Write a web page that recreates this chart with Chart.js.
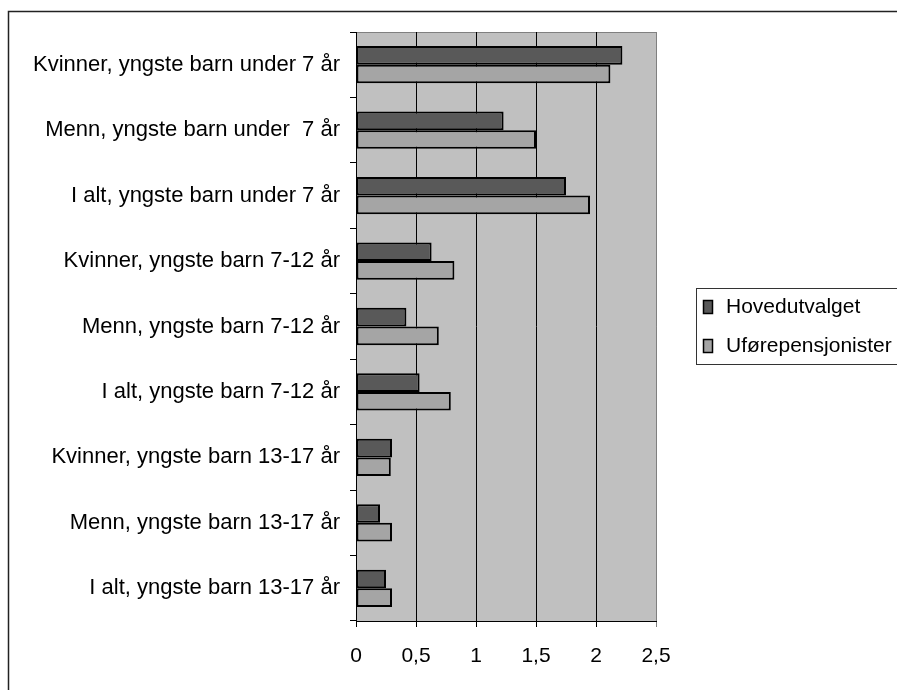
<!DOCTYPE html>
<html>
<head>
<meta charset="utf-8">
<script src="https://cdn.jsdelivr.net/npm/chart.js@4.4.0/dist/chart.umd.min.js"></script>
<style>
  body { margin: 0; background: #fff; }
  canvas { display: block; }
</style>
</head>
<body>
<canvas id="chart" width="897" height="690"></canvas>
<script>
// Kategorier (fra topp til bunn)
const categories = [
  "Kvinner, yngste barn under 7 år",
  "Menn, yngste barn under  7 år",
  "I alt, yngste barn under 7 år",
  "Kvinner, yngste barn 7-12 år",
  "Menn, yngste barn 7-12 år",
  "I alt, yngste barn 7-12 år",
  "Kvinner, yngste barn 13-17 år",
  "Menn, yngste barn 13-17 år",
  "I alt, yngste barn 13-17 år"
];
const seriesNames = ["Hovedutvalget", "Uførepensjonister"];
const hovedutvalget = [2.22, 1.23, 1.75, 0.63, 0.42, 0.53, 0.30, 0.20, 0.25];
const uforepensjonister = [2.12, 1.50, 1.95, 0.82, 0.69, 0.79, 0.29, 0.30, 0.30];
const xTickLabels = ["0", "0,5", "1", "1,5", "2", "2,5"];

const FONT = "'Liberation Sans', Arial, sans-serif";
const colors = ["#595959", "#a5a5a5"];

// Bakgrunn, ramme og grå plottflate
const backgroundPlugin = {
  id: 'background',
  beforeDraw(chart) {
    const ctx = chart.ctx;
    const a = chart.chartArea;
    ctx.save();
    ctx.fillStyle = '#fff';
    ctx.fillRect(0, 0, chart.width, chart.height);
    // ytre ramme (venstre + topp)
    ctx.strokeStyle = '#222';
    ctx.lineWidth = 1.5;
    ctx.beginPath();
    ctx.moveTo(8.5, chart.height);
    ctx.lineTo(8.5, 11.5);
    ctx.lineTo(chart.width, 11.5);
    ctx.stroke();
    // plottflate
    ctx.fillStyle = '#c0c0c0';
    ctx.fillRect(a.left, a.top, a.right - a.left, a.bottom - a.top);
    ctx.strokeStyle = '#808080';
    ctx.lineWidth = 1;
    ctx.beginPath();
    ctx.moveTo(a.left, a.top + 0.5);
    ctx.lineTo(a.right + 0.5, a.top + 0.5);
    ctx.lineTo(a.right + 0.5, a.bottom);
    ctx.stroke();
    ctx.restore();
  }
};

// Egen forklaring til høyre
const legendPlugin = {
  id: 'customLegend',
  afterDraw(chart) {
    const ctx = chart.ctx;
    ctx.save();
    ctx.strokeStyle = '#333';
    ctx.lineWidth = 1;
    ctx.strokeRect(696.5, 288.5, 230, 76);
    ctx.font = '21px ' + FONT;
    ctx.textBaseline = 'middle';
    ctx.textAlign = 'left';
    chart.data.datasets.forEach((ds, i) => {
      const y = 300 + i * 39;
      ctx.fillStyle = ds.backgroundColor;
      ctx.fillRect(703, y, 10, 14);
      ctx.strokeStyle = '#000';
      ctx.lineWidth = 1.5;
      ctx.strokeRect(703.5, y + 0.5, 9, 13);
      ctx.fillStyle = '#000';
      ctx.fillText(ds.label, 726, y + 7);
    });
    ctx.restore();
  }
};

const ctx = document.getElementById('chart').getContext('2d');
new Chart(ctx, {
  type: 'bar',
  data: {
    labels: categories,
    datasets: [
      {
        label: seriesNames[0],
        data: hovedutvalget,
        backgroundColor: colors[0],
        borderColor: '#000',
        borderWidth: 2,
        borderSkipped: false
      },
      {
        label: seriesNames[1],
        data: uforepensjonister,
        backgroundColor: colors[1],
        borderColor: '#000',
        borderWidth: 2,
        borderSkipped: false
      }
    ]
  },
  options: {
    indexAxis: 'y',
    responsive: false,
    animation: false,
    devicePixelRatio: 1,
    layout: { padding: { top: 32, right: 241, bottom: 0, left: 0 } },
    datasets: { bar: { categoryPercentage: 0.57, barPercentage: 1.0 } },
    plugins: {
      legend: { display: false },
      tooltip: { enabled: false }
    },
    scales: {
      x: {
        min: 0,
        max: 2.5,
        ticks: {
          stepSize: 0.5,
          color: '#000',
          padding: 17,
          font: { size: 21, family: FONT },
          callback: (value, index) => xTickLabels[index]
        },
        grid: {
          color: ctx => ctx.index === 5 ? '#808080' : '#000',
          lineWidth: 1,
          tickLength: 6
        },
        border: { color: '#000', width: 1 },
        afterFit: scale => { scale.height = 69; }
      },
      y: {
        ticks: {
          color: '#000',
          padding: 10,
          font: { size: 22, family: FONT }
        },
        grid: {
          drawOnChartArea: false,
          offset: true,
          color: '#000',
          tickLength: 6
        },
        border: { color: '#000', width: 1 },
        afterFit: scale => { scale.width = 356; }
      }
    }
  },
  plugins: [backgroundPlugin, legendPlugin]
});
</script>
</body>
</html>
